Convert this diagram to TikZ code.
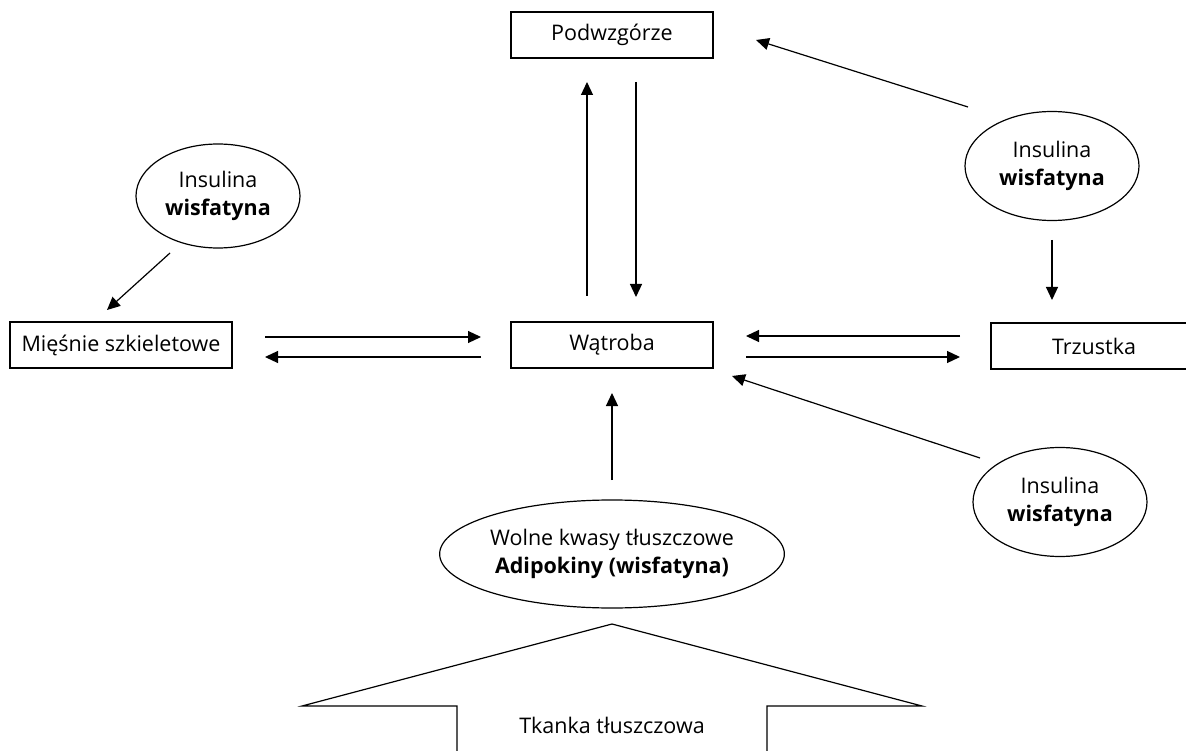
\documentclass[tikz,border=0pt]{standalone}
\usepackage{fontspec}
\setmainfont{Open Sans}
\usetikzlibrary{arrows.meta,shapes.geometric}
\begin{document}
\begin{tikzpicture}[x=1pt,y=-1pt,
  every node/.style={font=\fontsize{21.5}{27.5}\selectfont},
  box/.style={draw,line width=1.2pt,inner sep=0pt,minimum height=46pt},
  oval/.style={draw,line width=1.2pt,ellipse,inner sep=0pt,align=center},
  arr/.style={line width=1.2pt,-{Triangle[length=13pt,width=12pt]}},
  ln/.style={line width=1.2pt}]
\useasboundingbox (0,0) rectangle (1186,751);
% boxes
\node[box,minimum width=202pt] (pod) at (612,35) {Podwzgórze};
\node[box,minimum width=222pt] (mie) at (121,345) {Mięśnie szkieletowe};
\node[box,minimum width=202pt] (wat) at (612,345) {Wątroba};
\node[box,minimum width=206pt] (trz) at (1094,346) {Trzustka};
% ellipses
\node[oval,minimum width=164pt,minimum height=104pt] (e1) at (218,196) {Insulina\\\textbf{wisfatyna}};
\node[oval,minimum width=174pt,minimum height=109pt] (e2) at (1052,166) {Insulina\\\textbf{wisfatyna}};
\node[oval,minimum width=174pt,minimum height=109pt] (e3) at (1060,502) {Insulina\\\textbf{wisfatyna}};
\node[oval,minimum width=311pt,minimum height=108pt] (e4) at (612,554) {Wolne kwasy tłuszczowe\\\textbf{Adipokiny (wisfatyna)}};
% coordinates
\coordinate (pu1) at (587,296); \coordinate (pu2) at (587,82);
\coordinate (pd1) at (636,82);  \coordinate (pd2) at (636,297);
\coordinate (mw1) at (265,337); \coordinate (mw2) at (481,337);
\coordinate (wm1) at (481,357); \coordinate (wm2) at (265,357);
\coordinate (tw1) at (960,336); \coordinate (tw2) at (746,336);
\coordinate (wt1) at (746,357); \coordinate (wt2) at (960,357);
\coordinate (a1s) at (170,253); \coordinate (a1e) at (107,310);
\coordinate (a2s) at (968,107); \coordinate (a2e) at (756,40);
\coordinate (a3s) at (1052,240); \coordinate (a3e) at (1052,300);
\coordinate (a4s) at (980,458); \coordinate (a4e) at (732,376);
\coordinate (a5s) at (612,480); \coordinate (a5e) at (612,393);
% arrows
\draw[arr] (pu1) -- (pu2);
\draw[arr] (pd1) -- (pd2);
\draw[arr] (mw1) -- (mw2);
\draw[arr] (wm1) -- (wm2);
\draw[arr] (tw1) -- (tw2);
\draw[arr] (wt1) -- (wt2);
\draw[arr] (a1s) -- (a1e);
\draw[arr] (a2s) -- (a2e);
\draw[arr] (a3s) -- (a3e);
\draw[arr] (a4s) -- (a4e);
\draw[arr] (a5s) -- (a5e);
% big arrow
\draw[ln] (457,760) -- (457,706) -- (302,706) -- (612,624) -- (922,706) -- (767,706) -- (767,760);
\node (tk) at (612,725) {Tkanka tłuszczowa};
\end{tikzpicture}
\end{document}
